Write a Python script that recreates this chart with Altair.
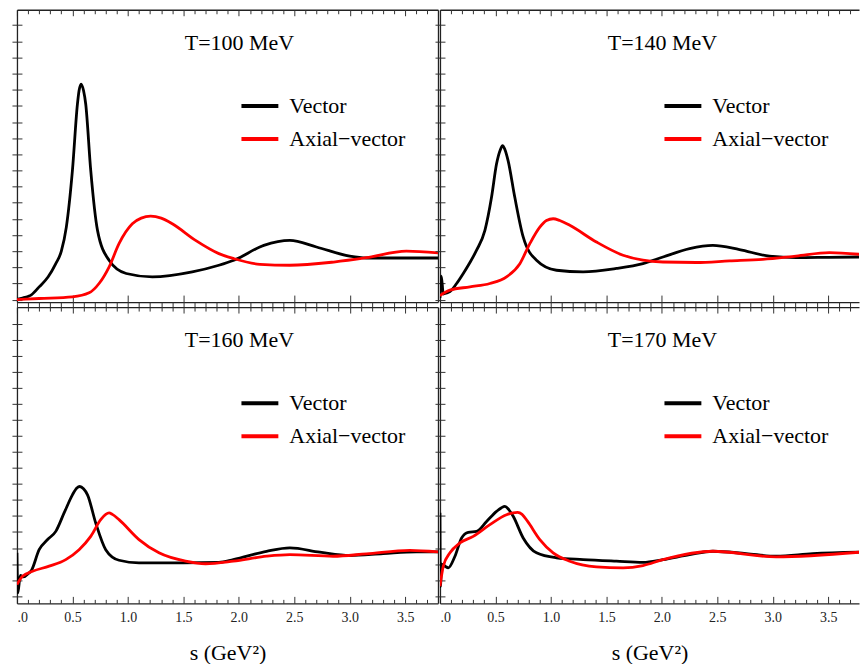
import altair as alt
import pandas as pd

FONT = "Liberation Serif"
SERIES = ["Vector", "Axial\u2212vector"]
COLORS = ["#000000", "#ff0000"]
X_TITLE = "s (GeV\u00b2)"
TITLES = ["T=100 MeV", "T=140 MeV", "T=160 MeV", "T=170 MeV"]

# ---- T = 100 MeV ----
S_V100 = [0, 0.05, 0.1, 0.13, 0.2, 0.28, 0.35, 0.40, 0.445, 0.5, 0.545, 0.56, 0.578, 0.60, 0.62, 0.665, 0.726, 0.83, 0.985, 1.22, 1.58, 1.82, 1.955, 2.225, 2.46, 2.70, 3.0, 3.15, 3.45, 3.8]
Y_V100 = [0.02, 0.1, 0.2, 0.3, 0.79, 1.4, 2.23, 3.0, 4.49, 8.0, 12.1, 12.95, 13.35, 12.95, 12.1, 8.0, 4.29, 2.44, 1.62, 1.41, 1.72, 2.13, 2.44, 3.36, 3.67, 3.26, 2.69, 2.58, 2.58, 2.58]
S_A100 = [0, 0.2, 0.5, 0.65, 0.74, 0.83, 0.92, 1.04, 1.12, 1.205, 1.30, 1.40, 1.61, 1.82, 1.955, 2.19, 2.46, 2.855, 3.15, 3.51, 3.8]
Y_A100 = [0, 0.07, 0.17, 0.42, 1.0, 2.02, 3.47, 4.70, 5.05, 5.17, 5.05, 4.70, 3.67, 2.85, 2.54, 2.19, 2.13, 2.33, 2.60, 3.01, 2.89]

# ---- T = 140 MeV ----
S_V140 = [0, 0.012, 0.03, 0.06, 0.09, 0.15, 0.21, 0.27, 0.33, 0.405, 0.465, 0.51, 0.545, 0.564, 0.585, 0.614, 0.674, 0.75, 0.87, 1.05, 1.29, 1.59, 1.83, 2.01, 2.25, 2.46, 2.70, 2.97, 3.21, 3.5, 3.78]
Y_V140 = [0.1, 1.45, 0.35, 0.42, 0.5, 1.0, 1.62, 2.3, 3.06, 4.29, 6.35, 8.41, 9.3, 9.54, 9.3, 8.61, 6.35, 3.88, 2.44, 1.82, 1.72, 1.93, 2.23, 2.64, 3.16, 3.36, 3.10, 2.69, 2.60, 2.62, 2.64]
S_A140 = [0, 0.09, 0.27, 0.45, 0.60, 0.72, 0.81, 0.90, 0.96, 1.02, 1.08, 1.17, 1.41, 1.65, 1.83, 2.01, 2.31, 2.61, 2.91, 3.21, 3.51, 3.78]
Y_A140 = [0.25, 0.59, 0.79, 1.0, 1.41, 2.23, 3.47, 4.49, 4.9, 5.01, 4.9, 4.60, 3.57, 2.75, 2.44, 2.33, 2.30, 2.40, 2.50, 2.70, 2.91, 2.81]

# ---- T = 160 MeV ----
S_V160 = [0, 0.008, 0.03, 0.06, 0.1, 0.13, 0.20, 0.276, 0.35, 0.425, 0.50, 0.54, 0.566, 0.60, 0.636, 0.71, 0.80, 0.92, 1.10, 1.5, 1.82, 1.95, 2.25, 2.46, 2.73, 3.0, 3.30, 3.60, 3.80]
Y_V160 = [2.7, 0.2, 1.3, 1.2, 1.4, 1.6, 2.9, 3.53, 4.04, 5.19, 6.32, 6.75, 6.84, 6.7, 6.32, 4.56, 2.90, 2.24, 2.08, 2.08, 2.11, 2.28, 2.80, 3.01, 2.74, 2.53, 2.65, 2.76, 2.76]
S_A160 = [0, 0.05, 0.14, 0.29, 0.44, 0.56, 0.665, 0.755, 0.80, 0.83, 0.86, 0.92, 1.10, 1.28, 1.52, 1.70, 1.95, 2.25, 2.46, 2.85, 3.15, 3.54, 3.80]
Y_A160 = [0.73, 1.24, 1.55, 1.87, 2.28, 2.90, 3.73, 4.77, 5.1, 5.19, 5.1, 4.77, 3.53, 2.70, 2.18, 2.02, 2.18, 2.49, 2.59, 2.49, 2.64, 2.86, 2.76]

# ---- T = 170 MeV ----
S_V170 = [0, 0.004, 0.015, 0.045, 0.075, 0.135, 0.195, 0.255, 0.33, 0.42, 0.51, 0.555, 0.585, 0.62, 0.66, 0.75, 0.87, 1.05, 1.29, 1.59, 1.83, 2.01, 2.25, 2.46, 2.76, 3.03, 3.36, 3.78]
Y_V170 = [5.2, 0.6, 2.0, 1.87, 1.77, 2.49, 3.63, 3.98, 4.04, 4.66, 5.29, 5.52, 5.60, 5.4, 4.98, 3.63, 2.70, 2.39, 2.28, 2.18, 2.11, 2.28, 2.59, 2.80, 2.65, 2.49, 2.65, 2.74]
S_A170 = [0, 0.03, 0.09, 0.18, 0.30, 0.45, 0.60, 0.66, 0.70, 0.74, 0.79, 0.90, 1.02, 1.17, 1.41, 1.65, 1.83, 2.01, 2.46, 3.03, 3.78]
Y_A170 = [0.62, 1.87, 2.70, 3.32, 3.73, 4.46, 5.08, 5.2, 5.22, 5.1, 4.66, 3.53, 2.70, 2.18, 1.83, 1.77, 1.91, 2.28, 2.80, 2.45, 2.74]

MAJOR = [0, 0.5, 1.0, 1.5, 2.0, 2.5, 3.0, 3.5]
MINOR = [round(i * 0.1, 1) for i in range(0, 38) if i % 5]
YTICKS = list(range(18))

TICK = "#333333"
FRAME = "#222222"


def tick_axis(orient, values, size, offset):
    """Axis that only draws ticks (no domain, no labels)."""
    return alt.Axis(orient=orient, values=values, tickSize=size, offset=offset,
                    tickColor=TICK, tickWidth=1, labels=False, domain=False,
                    grid=False, title=None)


def frame_axis(orient):
    """Axis that only draws the frame line."""
    return alt.Axis(orient=orient, ticks=False, labels=False, domain=True,
                    domainColor=FRAME, domainWidth=1.3, grid=False, title=None)


def panel(title, sv, vv, sa, va, xmax, ydom, w, h, bottom_labels, left_panel, top_row):
    df = pd.DataFrame({
        "s": sv + sa,
        "v": vv + va,
        "series": [SERIES[0]] * len(sv) + [SERIES[1]] * len(sa),
    })
    xs = alt.Scale(domain=[0, xmax], nice=False, zero=False)
    ys = alt.Scale(domain=ydom, nice=False, zero=False)

    bottom_axis = alt.Axis(
        orient="bottom", values=MAJOR, ticks=False, domain=True, domainColor=FRAME,
        domainWidth=1.3, grid=False, labels=bottom_labels,
        labelExpr="datum.value == 0 ? '.0' : format(datum.value, '.1f')",
        labelFont=FONT, labelFontSize=14, labelColor="#222222", labelPadding=7,
        labelFlush=True, titleFont=FONT, titleFontSize=22, titleFontWeight="normal",
        titleColor="#000000", titlePadding=18,
    )
    left_axis = alt.Axis(orient="left", values=YTICKS, tickSize=5, tickColor=TICK, tickWidth=1,
                         labels=False, domain=True, domainColor=FRAME, domainWidth=1.3,
                         grid=False, title=None)

    lines = alt.Chart(df).mark_line(strokeWidth=2.8, clip=True, interpolate="monotone").encode(
        x=alt.X("s:Q", scale=xs, title=X_TITLE if bottom_labels else None, axis=bottom_axis),
        y=alt.Y("v:Q", scale=ys, title=None, axis=left_axis),
        color=alt.Color("series:N", scale=alt.Scale(domain=SERIES, range=COLORS),
                        legend=alt.Legend(title=None, orient="none", legendX=232, legendY=85,
                                          symbolType="M-2,0H2", symbolSize=342, symbolStrokeWidth=4,
                                          labelFont=FONT, labelFontSize=22, labelColor="#000000",
                                          labelOffset=18, rowPadding=10, padding=0, labelLimit=300)),
    )

    def ghost(xaxis, yaxis):
        return alt.Chart(df).mark_line(opacity=0).encode(
            x=alt.X("s:Q", scale=xs, title=None, axis=xaxis),
            y=alt.Y("v:Q", scale=ys, title=None, axis=yaxis),
        )

    # bottom ticks: major inward (crossing for the top row), minor inward / outward
    if top_row:
        b_major = tick_axis("bottom", MAJOR, 12, -7)
        b_minor = tick_axis("bottom", MINOR, 5, 0)
    else:
        b_major = tick_axis("bottom", MAJOR, 7, -7)
        b_minor = tick_axis("bottom", MINOR, 4, -4)

    layers = [
        lines,
        ghost(b_major, tick_axis("left", YTICKS, 5, -5)),
        ghost(b_minor, frame_axis("right") if left_panel else None),
        ghost(frame_axis("top"), None),
        ghost(tick_axis("top", MAJOR, 6, -6), None),
        ghost(tick_axis("top", MINOR, 4, -4), None),
    ]

    label = alt.Chart(pd.DataFrame({"t": [title]})).mark_text(
        font=FONT, fontSize=22, color="#000000", align="center", baseline="middle"
    ).encode(text="t:N", x=alt.value(223), y=alt.value(33))
    layers.append(label)

    return alt.layer(*layers).resolve_axis(
        x="independent", y="independent"
    ).properties(width=w, height=h)


TOP_DOM = [-0.15, 17.95]
BOT_DOM = [-0.45, 18.03]

p1 = panel(TITLES[0], S_V100, Y_V100, S_A100, Y_A100, 3.795, TOP_DOM, 422, 293, False, True, True)
p2 = panel(TITLES[1], S_V140, Y_V140, S_A140, Y_A140, 3.777, TOP_DOM, 420, 293, False, False, True)
p3 = panel(TITLES[2], S_V160, Y_V160, S_A160, Y_A160, 3.795, BOT_DOM, 422, 297, True, True, False)
p4 = panel(TITLES[3], S_V170, Y_V170, S_A170, Y_A170, 3.777, BOT_DOM, 420, 297, True, False, False)

chart = alt.concat(
    p1, p2, p3, p4, columns=2, spacing={"row": 5, "column": 2}, bounds="flush"
).resolve_scale(
    color="independent"
).properties(
    padding={"left": 11, "top": 8, "right": 0, "bottom": 0},
    background="white",
).configure_view(stroke=None)

chart.save("out.html", embed_options={"renderer": "svg", "actions": False})
